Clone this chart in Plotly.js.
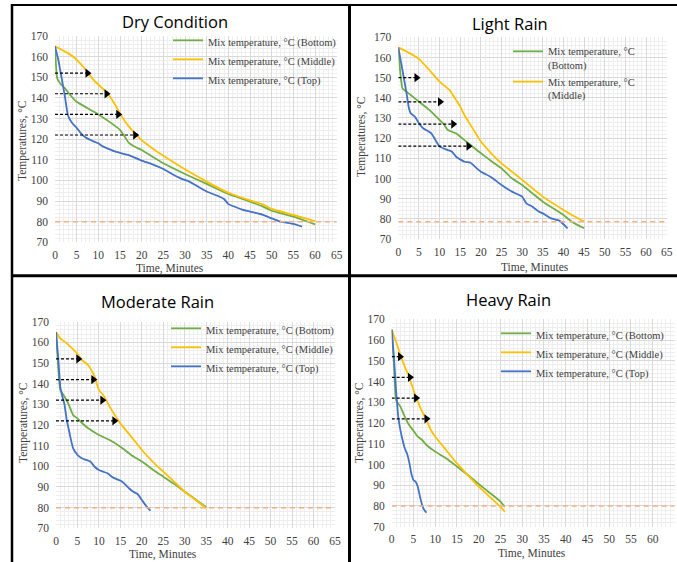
<!DOCTYPE html>
<html>
<head>
<meta charset="utf-8">
<script src="https://cdn.plot.ly/plotly-3.0.1.min.js"></script>
<style>html,body{margin:0;padding:0;background:#fff;}#chart{width:677px;height:562px;}</style>
</head>
<body>
<div id="chart"></div>
<script>
// ---------------- DATA ----------------
const panelTitles = ["Dry Condition", "Light Rain", "Moderate Rain", "Heavy Rain"];
const seriesNames = ["Mix temperature, °C (Bottom)", "Mix temperature, °C (Middle)", "Mix temperature, °C (Top)"];
const seriesNamesWrapped = ["Mix temperature, °C<br>(Bottom)", "Mix temperature, °C<br>(Middle)", "Mix temperature, °C<br>(Top)"];
const xTickVals = [0,5,10,15,20,25,30,35,40,45,50,55,60,65];
const yTickVals = [70,80,90,100,110,120,130,140,150,160,170];
const xTitle = "Time, Minutes";
const yTitle = "Temperatures, °C";

// Dry condition
const dryTimeBottom = [0,0.5,1.2,2.3,3.5,5,8,10,12.5,15,16,17,18,20,22.5,25,30,35,40,45,48,50,55,60];
const dryBottom     = [165,149.5,147,144.6,141.4,138.1,134.4,132,128.5,124.5,121.5,118.3,116.8,114.7,111.5,108.3,103.1,98.3,93.4,89.7,87.3,85.3,82.4,78.7];
const dryTimeMiddle = [0,2,4,6.5,9,12,13.5,15,16,17.5,20,22.5,25,30,35,40,45,48,50,55,60];
const dryMiddle     = [165,162.8,160.3,155.1,148.5,142.5,138,132.5,129,125,119.5,115.5,112,105.4,99.4,94,90.3,88.4,86.2,83.3,80.3];
const dryTimeTop    = [0,0.8,1.5,2.3,3,4,5,6,7,9,10,11,12,14,17,20,22.5,25,27,29,31,35,38,39,40,41,43,45,48,50,52,55,57];
const dryTop        = [165,158,150,140.5,131.5,127.7,125.5,122.8,120.9,118.8,118,116.5,115.6,113.9,112.3,109.6,107.8,105.5,103.1,101,99.4,94.6,92.1,91,88.5,87.6,86,84.9,83.3,81.6,80,78.9,77.6];
const dryLimit = 80;
const dryArrowLevels = [152,142,132,122];
const dryArrowEnds   = [7.5,11.9,14.6,18.5];

// Light rain
const lightTimeBottom = [0,0.5,1,2,3,5,7.5,9,10,11,12,14,15,17.5,20,22.5,25,27.5,30,32.5,35,37.5,40,42,45];
const lightBottom     = [165,152,144.7,143,141.4,138.1,134,131,129,127,124,122.4,120.7,116.6,112.5,108.7,105,100.1,96.8,92.6,88.5,85.2,81.9,78.6,75.3];
const lightTimeMiddle = [0,2.5,5,7.5,10,12.5,14,15,16,17,20,22.5,25,27.5,30,35,40,42.5,45];
const lightMiddle     = [165,162.4,159.3,153.8,148,143.6,138.9,135.6,131.5,128.2,118.3,112.5,107.5,103.4,99.3,91,84.4,81.4,78.6];
const lightTimeTop    = [0,1,2,2.5,3,4,5,6,7,8,9,10,12,13,14,16,17.5,19,20,22.5,25,27.5,30,31,32.5,34,35,37,39,41];
const lightTop        = [165,153.8,142.2,135.6,132.3,130.7,127.4,124.9,123.7,122.4,119.1,115.8,114.1,113.3,110.8,108.3,107.8,105,103.4,100.6,96.8,93.5,91,87.7,86,83.6,82.7,80.2,79.1,75.3];
const lightLimit = 78.6;
const lightArrowLevels = [150,138,127,116];
const lightArrowEnds   = [4.4,10.1,13.3,17];

// Moderate rain
const modTimeBottom = [0,0.5,1,2,3,4,5,6,7.5,10,12.5,15,17.5,20,22.5,25,27.5,30,32.5,35];
const modBottom     = [165,148.2,136.9,133.7,129.7,124.8,123.2,121.1,118.4,115.2,112.7,109.5,105.5,102.3,98.5,95,91.5,87.7,84,80.2];
const modTimeMiddle = [0,1,2.5,5,6,7.5,8,9,10,11,12.5,15,17.5,20,22.5,25,27.5,30,32.5,35];
const modMiddle     = [165,161.9,159.5,154.4,151.5,149,147.4,143.4,136.9,134.5,128.9,120.8,114.4,107.9,102.3,97.4,92.6,87.7,83.7,79.7];
const modTimeTop    = [0,0.5,1,1.5,2,2.5,3,3.5,4,5,6,7,8,9,10,11,12,13,14,15,16,17,18,19,20,21,22];
const modTop        = [165,153,138.5,133.7,129.7,122.4,117.6,112.7,108.7,105.5,103.9,103.1,102.3,99.8,98.2,97.4,96.6,95,93.9,93.1,91.5,89.4,87.7,86.6,83.7,80.8,78.5];
const modLimit = 80;
const modArrowLevels = [152,142,132,122];
const modArrowEnds   = [5.2,8.7,10.8,13.6];

// Heavy rain
const heavyTimeBottom = [0,0.5,1,2,3,4,5,6,7,8,10,12.5,15,17.5,20,22.5,25,26];
const heavyBottom     = [165,148.8,131.1,127.9,123.1,119,116.3,113.4,111.8,109.4,106.2,103,99,94.9,90.6,86.4,82.1,79.6];
const heavyTimeMiddle = [0,1,2,3,4,5,6,7,8,9,10,12.5,15,17.5,20,22.5,25,26];
const heavyMiddle     = [165,159.2,152.8,147.2,142.3,135.9,130.3,125.5,121.4,116.6,113.4,107,100.5,94.9,89.3,84.5,79.6,77.2];
const heavyTimeTop    = [0,0.5,1,1.5,2,2.5,3,3.5,4,4.5,5,5.5,6,6.5,7,7.5,8];
const heavyTop        = [165,152,135.9,123.1,116.6,111.8,107.8,105.4,101.4,95.7,92.5,91.7,89.3,84.5,80.4,78,76.8];
const heavyLimit = 80;
const heavyArrowLevels = [152,142,132,122];
const heavyArrowEnds   = [1.9,4.2,5.6,8];

// ---------------- STYLE / LAYOUT ----------------
const W = 677, H = 562;
const colors = ["#70AD47", "#FFC000", "#4472C4"];
const serif = "Liberation Serif, Times New Roman, serif";
const sans = "Open Sans, Noto Sans, sans-serif";

const panels = [
  {times:[dryTimeBottom,dryTimeMiddle,dryTimeTop], vals:[dryBottom,dryMiddle,dryTop], limit:dryLimit, al:dryArrowLevels, ae:dryArrowEnds,
   px:[55,336.7], py:[36,242.3], legendWrap:false, legendTop:true, legendPos:[168,27], title:[175,21], xt:[170,268], yt:[22,140]},
  {times:[lightTimeBottom,lightTimeMiddle,lightTimeTop], vals:[lightBottom,lightMiddle,lightTop], limit:lightLimit, al:lightArrowLevels, ae:lightArrowEnds,
   px:[398.3,666.7], py:[37.3,239], legendWrap:true, legendTop:false, legendPos:[508,38], title:[510,23], xt:[535,267], yt:[362,137]},
  {times:[modTimeBottom,modTimeMiddle,modTimeTop], vals:[modBottom,modMiddle,modTop], limit:modLimit, al:modArrowLevels, ae:modArrowEnds,
   px:[56,335], py:[321.7,528.3], legendWrap:false, legendTop:true, legendPos:[166,315], title:[157,301], xt:[163,554], yt:[23,423]},
  {times:[heavyTimeBottom,heavyTimeMiddle,heavyTimeTop], vals:[heavyBottom,heavyMiddle,heavyTop], limit:heavyLimit, al:heavyArrowLevels, ae:heavyArrowEnds,
   px:[391.7,674.5], py:[319.3,526.7], legendWrap:false, legendTop:true, legendPos:[496,320], title:[508,300], xt:[532,553], yt:[359,423]}
];

const traces = [];
const layout = {
  width: W, height: H, margin:{l:0,r:0,t:0,b:0},
  paper_bgcolor:"#ffffff", plot_bgcolor:"#ffffff",
  showlegend:true, annotations:[], shapes:[],
  font:{family:serif, size:11, color:"#404040"}
};

panels.forEach((p, i) => {
  const n = i + 1;
  const xa = n === 1 ? "x" : "x" + n;
  const ya = n === 1 ? "y" : "y" + n;
  const leg = n === 1 ? "legend" : "legend" + n;
  for (let s = 0; s < 3; s++) {
    const show = !(p.legendTop === false && s === 2);
    traces.push({
      type:"scatter", mode:"lines", x:p.times[s], y:p.vals[s], xaxis:xa, yaxis:ya,
      name: p.legendWrap ? seriesNamesWrapped[s] : seriesNames[s],
      line:{color:colors[s], width:1.8, shape:"spline", smoothing:0.4},
      showlegend: show, legend: leg, hoverinfo:"skip"
    });
  }
  traces.push({type:"scatter", mode:"lines", x:[0,65], y:[p.limit,p.limit], xaxis:xa, yaxis:ya,
    line:{color:"#F4B183", width:1.5, dash:"5px,4px"}, showlegend:false, hoverinfo:"skip"});
  const ax = [], ay = [];
  p.al.forEach((lv, k) => { ax.push(0, p.ae[k], null); ay.push(lv, lv, null); });
  traces.push({type:"scatter", mode:"lines", x:ax, y:ay, xaxis:xa, yaxis:ya,
    line:{color:"#000000", width:1.2, dash:"3px,2px"}, showlegend:false, hoverinfo:"skip"});
  traces.push({type:"scatter", mode:"markers", x:p.ae, y:p.al, xaxis:xa, yaxis:ya,
    marker:{symbol:"triangle-right", size:8, color:"#000000"}, showlegend:false, hoverinfo:"skip", cliponaxis:false});

  const axisCommon = {showline:false, zeroline:false, ticks:"", showgrid:true,
    gridcolor:"#d9d9d9", gridwidth:1, tickfont:{family:serif, size:11.5, color:"#404040"}, fixedrange:true};
  layout["xaxis" + (n===1?"":n)] = Object.assign({}, axisCommon, {
    domain:[p.px[0]/W, p.px[1]/W], range:[0,65], tickmode:"array", tickvals:xTickVals, anchor:ya,
    minor:{dtick:1, showgrid:true, gridcolor:"#eeeeee", gridwidth:1, ticks:""}, ticklabelstandoff:4
  });
  layout["yaxis" + (n===1?"":n)] = Object.assign({}, axisCommon, {
    domain:[1-p.py[1]/H, 1-p.py[0]/H], range:[70,170], tickmode:"array", tickvals:yTickVals, anchor:xa,
    minor:{dtick:2, showgrid:true, gridcolor:"#eeeeee", gridwidth:1, ticks:""}, ticklabelstandoff:6
  });
  layout[leg] = {x:p.legendPos[0]/W, y:1-p.legendPos[1]/H, xanchor:"left", yanchor:"top",
    bgcolor:"rgba(0,0,0,0)", borderwidth:0, font:{family:serif, size:10.5, color:"#404040"},
    valign:"top", tracegroupgap:0, itemclick:false, itemdoubleclick:false};
  layout.annotations.push({text:panelTitles[i], xref:"paper", yref:"paper", x:p.title[0]/W, y:1-p.title[1]/H,
    xanchor:"center", yanchor:"middle", showarrow:false, font:{family:sans, size:16.5, color:"#000000"}});
  layout.annotations.push({text:xTitle, xref:"paper", yref:"paper", x:p.xt[0]/W, y:1-p.xt[1]/H,
    xanchor:"center", yanchor:"middle", showarrow:false, font:{family:serif, size:11.5, color:"#404040"}});
  layout.annotations.push({text:yTitle, xref:"paper", yref:"paper", x:p.yt[0]/W, y:1-p.yt[1]/H,
    xanchor:"center", yanchor:"middle", showarrow:false, textangle:-90, font:{family:serif, size:11.5, color:"#404040"}});
});

layout.shapes.push(
  {type:"line", xref:"paper", yref:"paper", x0:12/W, x1:12/W, y0:0, y1:1-4/H, line:{color:"#000", width:2.5}},
  {type:"line", xref:"paper", yref:"paper", x0:11/W, x1:1, y0:1-5/H, y1:1-5/H, line:{color:"#000", width:2}},
  {type:"line", xref:"paper", yref:"paper", x0:349.5/W, x1:349.5/W, y0:0, y1:1-4/H, line:{color:"#000", width:3}},
  {type:"line", xref:"paper", yref:"paper", x0:11/W, x1:1, y0:1-275.8/H, y1:1-275.8/H, line:{color:"#000", width:3}}
);

Plotly.newPlot("chart", traces, layout, {staticPlot:true, displayModeBar:false});
</script>
</body>
</html>
